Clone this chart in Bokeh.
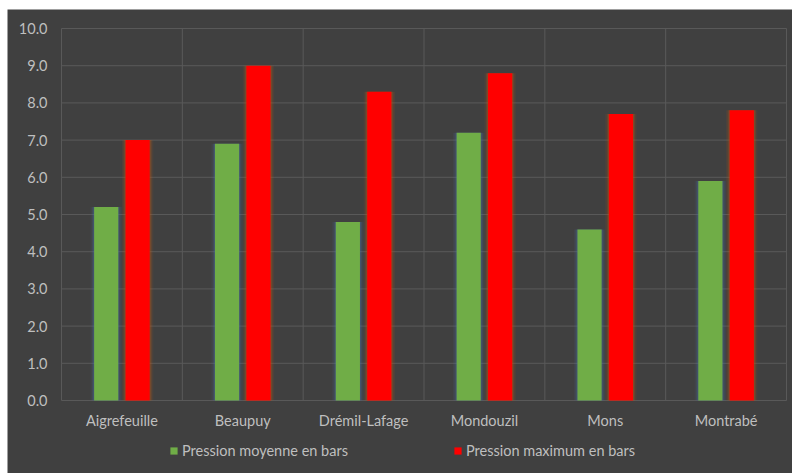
from bokeh.plotting import figure
from bokeh.models import Range1d, Legend, LegendItem, ColumnDataSource
from bokeh.core.properties import value
from bokeh.embed import file_html
from bokeh.resources import INLINE

categories = ["Aigrefeuille", "Beaupuy", "Drémil-Lafage", "Mondouzil", "Mons", "Montrabé"]
pression_moyenne = [5.2, 6.9, 4.8, 7.2, 4.6, 5.9]
pression_maximum = [7.0, 9.0, 8.3, 8.8, 7.7, 7.8]
series_names = ["Pression moyenne en bars", "Pression maximum en bars"]
y_ticks = [0, 1, 2, 3, 4, 5, 6, 7, 8, 9, 10]
y_tick_labels = ["0.0", "1.0", "2.0", "3.0", "4.0", "5.0", "6.0", "7.0", "8.0", "9.0", "10.0"]

BG = "#404040"
GRID = "#595959"
TXT = "#bfbfbf"
GREEN = "#70ad47"
RED = "#ff0000"
FONT = "Lato"
FS = "14.5px"

PX_X = 725 / 6.0      # px per category
PX_Y = 372 / 10.0     # px per unit
n = len(categories)

p = figure(frame_width=785, frame_height=464, output_backend="svg", toolbar_location=None,
           x_range=Range1d(-54 / PX_X, n + 6 / PX_X), y_range=Range1d(-73 / PX_Y, 10 + 19 / PX_Y),
           min_border_left=0, min_border_right=0, min_border_top=0, min_border_bottom=0)
p.margin = (9, 0, 0, 7)
p.background_fill_color = BG
p.border_fill_color = BG
p.outline_line_color = None
p.axis.visible = False
p.grid.visible = False

# grid lines
p.segment(x0=list(range(n + 1)), y0=[0] * (n + 1), x1=list(range(n + 1)), y1=[10] * (n + 1),
          line_color=GRID, line_width=1)
p.segment(x0=[0] * len(y_ticks), y0=y_ticks, x1=[n] * len(y_ticks), y1=y_ticks,
          line_color=GRID, line_width=1)

centers = [i + 0.5 for i in range(n)]
xg = [c - 0.13 for c in centers]
xr = [c + 0.13 for c in centers]
src = ColumnDataSource(dict(xg=xg, xr=xr, g=pression_moyenne, r=pression_maximum))

# glow
for w, a in [(0.26, 0.10), (0.235, 0.18), (0.215, 0.3)]:
    p.vbar(x="xg", top="g", bottom=0, width=w, source=src, fill_color="#4a6fa5", fill_alpha=a, line_color=None)
    p.vbar(x="xr", top="r", bottom=0, width=w, source=src, fill_color="#c55a11", fill_alpha=a, line_color=None)

rg = p.vbar(x="xg", top="g", bottom=0, width=0.2, source=src, fill_color=GREEN, line_color=None)
rr = p.vbar(x="xr", top="r", bottom=0, width=0.2, source=src, fill_color=RED, line_color=None)

# category labels
p.text(x=centers, y=[-20 / PX_Y] * n, text=categories, text_align="center", text_baseline="middle",
       text_font=value(FONT), text_font_size=FS, text_color=TXT)

# value axis labels
p.text(x=[-14 / PX_X] * len(y_ticks), y=y_ticks, text=y_tick_labels, text_align="right",
       text_baseline="middle", text_font=value(FONT), text_font_size=FS, text_color=TXT)

legend = Legend(items=[LegendItem(label=series_names[0], renderers=[rg]),
                       LegendItem(label=series_names[1], renderers=[rr])],
                orientation="horizontal", location=(162, 14),
                background_fill_alpha=0, border_line_color=None,
                label_text_color=TXT, label_text_font=FONT, label_text_font_size=FS,
                glyph_width=9, glyph_height=9, label_standoff=4, spacing=105,
                padding=0, margin=0)
p.add_layout(legend, "center")

open("out.html", "w").write(file_html(p, INLINE))
